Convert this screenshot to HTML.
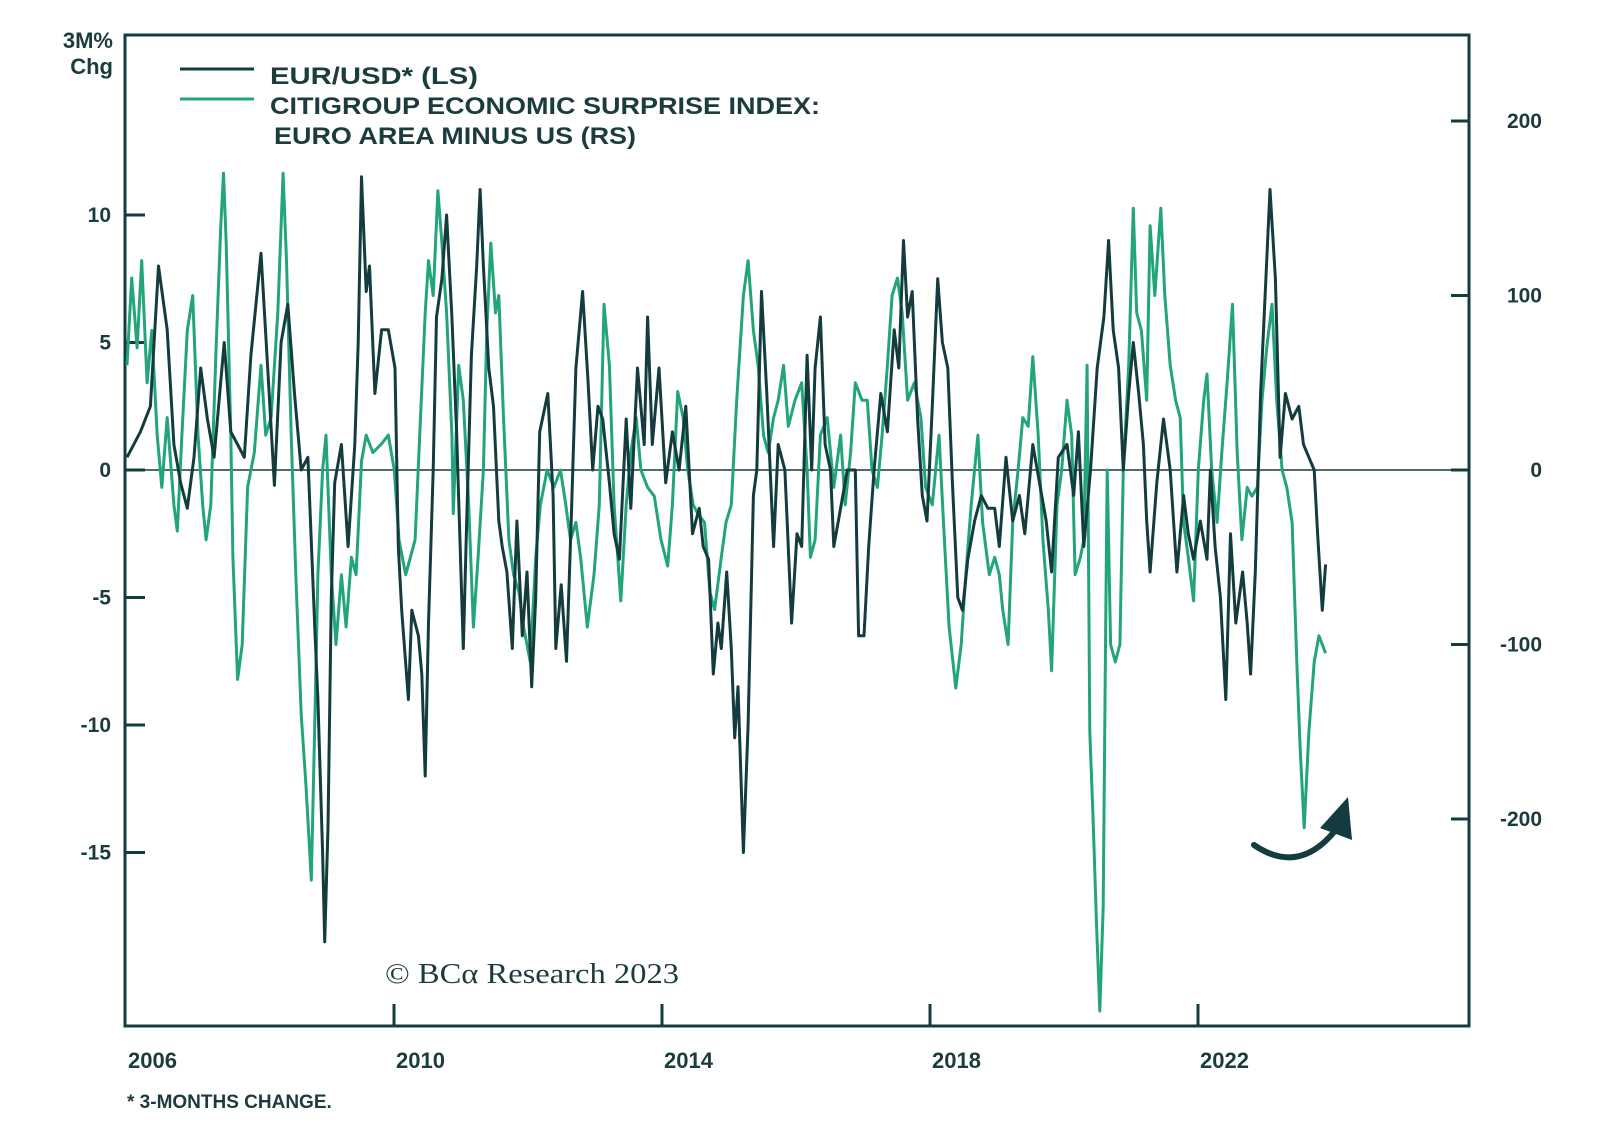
<!DOCTYPE html>
<html><head><meta charset="utf-8">
<style>
html,body{margin:0;padding:0;background:#fff;}
svg{display:block;}
text{font-family:"Liberation Sans",sans-serif;fill:#1c3b3d;}
</style></head>
<body>
<svg id="chart" width="1600" height="1142" viewBox="0 0 1600 1142" xmlns="http://www.w3.org/2000/svg">
  <g id="grid"></g>
  <g id="series"></g>
  <g>
    <line x1="180" y1="69" x2="254" y2="69" stroke="#143c3f" stroke-width="3"/>
    <text x="270" y="84" font-size="24" font-weight="bold" textLength="208" lengthAdjust="spacingAndGlyphs">EUR/USD* (LS)</text>
    <line x1="180" y1="99" x2="254" y2="99" stroke="#22a57a" stroke-width="3"/>
    <text x="270" y="114" font-size="24" font-weight="bold" textLength="550" lengthAdjust="spacingAndGlyphs">CITIGROUP ECONOMIC SURPRISE INDEX:</text>
    <text x="274" y="144" font-size="24" font-weight="bold" textLength="362" lengthAdjust="spacingAndGlyphs">EURO AREA MINUS US (RS)</text>
  </g>
  <text x="113" y="48" font-size="22" font-weight="bold" text-anchor="end">3M%</text>
  <text x="113" y="74" font-size="22" font-weight="bold" text-anchor="end">Chg</text>
  <text x="385" y="983" font-size="28" style="font-family:'Liberation Serif',serif" textLength="294" lengthAdjust="spacingAndGlyphs">© BCα Research 2023</text>
  <text x="127" y="1108" font-size="19" font-weight="bold">* 3-MONTHS CHANGE.</text>
  <g>
    <path d="M1254 845 Q1298 875 1334 832" fill="none" stroke="#143c3f" stroke-width="6" stroke-linecap="round"/>
    <polygon points="1348,797 1352,840 1320,828" fill="#143c3f"/>
  </g>
</svg>
<script>
// ---- data ----
const eurDates = [2006.0,2006.2,2006.35,2006.47,2006.6,2006.7,2006.8,2006.9,2007.0,2007.1,2007.2,2007.3,2007.45,2007.55,2007.65,2007.75,2007.85,2008.0,2008.1,2008.2,2008.3,2008.4,2008.5,2008.6,2008.7,2008.8,2008.85,2008.92,2008.95,2009.0,2009.05,2009.1,2009.2,2009.3,2009.4,2009.45,2009.5,2009.57,2009.62,2009.7,2009.8,2009.9,2010.0,2010.05,2010.1,2010.2,2010.25,2010.35,2010.4,2010.45,2010.5,2010.57,2010.62,2010.7,2010.77,2010.85,2010.92,2011.02,2011.07,2011.14,2011.22,2011.27,2011.32,2011.4,2011.47,2011.55,2011.6,2011.67,2011.75,2011.82,2011.9,2011.97,2012.04,2012.1,2012.16,2012.28,2012.36,2012.4,2012.48,2012.56,2012.63,2012.7,2012.8,2012.88,2012.95,2013.03,2013.1,2013.2,2013.27,2013.35,2013.45,2013.52,2013.62,2013.72,2013.77,2013.84,2013.94,2014.04,2014.14,2014.24,2014.34,2014.44,2014.54,2014.6,2014.68,2014.75,2014.82,2014.87,2014.95,2015.02,2015.07,2015.12,2015.2,2015.27,2015.35,2015.4,2015.47,2015.55,2015.65,2015.72,2015.82,2015.92,2016.0,2016.07,2016.15,2016.22,2016.27,2016.35,2016.42,2016.5,2016.55,2016.65,2016.75,2016.87,2016.92,2017.0,2017.07,2017.15,2017.25,2017.35,2017.45,2017.52,2017.59,2017.65,2017.72,2017.8,2017.87,2017.94,2018.02,2018.1,2018.17,2018.25,2018.32,2018.4,2018.47,2018.55,2018.65,2018.75,2018.85,2018.95,2019.02,2019.12,2019.22,2019.32,2019.4,2019.52,2019.62,2019.72,2019.8,2019.9,2020.03,2020.13,2020.2,2020.28,2020.38,2020.48,2020.58,2020.65,2020.72,2020.8,2020.87,2020.95,2021.02,2021.1,2021.17,2021.22,2021.27,2021.37,2021.47,2021.57,2021.67,2021.77,2021.84,2021.92,2022.02,2022.12,2022.17,2022.24,2022.32,2022.4,2022.47,2022.55,2022.65,2022.72,2022.77,2022.84,2022.92,2022.99,2023.06,2023.14,2023.21,2023.29,2023.39,2023.49,2023.56,2023.64,2023.72,2023.77,2023.84,2023.89];
const eurValues = [0.5,1.5,2.5,8,5.5,1,-0.5,-1.5,0.5,4,2,0.5,5,1.5,1,0.5,4.5,8.5,4,-0.6,5,6.5,3,0,0.5,-6,-9,-15,-18.5,-14,-5,-0.5,1,-3,1,5,11.5,7,8,3,5.5,5.5,4,-3,-5.5,-9,-5.5,-6.5,-8,-12,-6,0,6,7.5,10,6,1.5,-7,-2,4.5,8,11,8,4,2.5,-2,-3,-4,-7,-2,-6.5,-4,-8.5,-5,1.5,3,-1,-7,-4.5,-7.5,-2,4,7,3.5,0,2.5,2,-0.5,-2.5,-3.5,2,-1.5,4,1,6,1,4,-0.5,1.5,0,2.5,-2.5,-1.5,-3,-3.5,-8,-6,-7,-4,-7,-10.5,-8.5,-15,-10,-1,0,7,3,-3,1,0,-6,-2.5,-3,4.5,0,4,6,1,0,-3,-1.5,0,0,-6.5,-6.5,-3,0,3,1.5,5.5,4,9,6,7,2,-1,-2,2.5,7.5,5,4,-0.5,-5,-5.5,-3.5,-2,-1,-1.5,-1.5,-3,0.5,-2,-1,-2.5,1,-0.5,-2,-4,0.5,1,-1,1.5,-3,0,4,6,9,5.5,4,0,3,5,3,1,-2,-4,-0.5,2,0,-4,-1,-2.5,-3.5,-2,-3.5,0,-3,-5,-9,-2.5,-6,-4,-6,-8,-4,3,7,11,7.5,0.5,3,2,2.5,1,0.5,0,-2.5,-5.5,-3.7];
const cesiDates = [2006.0,2006.07,2006.15,2006.22,2006.3,2006.37,2006.45,2006.52,2006.6,2006.7,2006.75,2006.82,2006.9,2006.98,2007.06,2007.13,2007.18,2007.25,2007.33,2007.4,2007.44,2007.48,2007.55,2007.58,2007.65,2007.72,2007.8,2007.9,2008.0,2008.07,2008.15,2008.25,2008.33,2008.38,2008.45,2008.52,2008.6,2008.67,2008.75,2008.8,2008.85,2008.92,2008.97,2009.05,2009.12,2009.2,2009.27,2009.35,2009.42,2009.5,2009.57,2009.67,2009.8,2009.9,2009.99,2010.06,2010.16,2010.23,2010.3,2010.38,2010.45,2010.5,2010.57,2010.64,2010.7,2010.77,2010.85,2010.87,2010.95,2011.02,2011.1,2011.17,2011.24,2011.32,2011.37,2011.43,2011.5,2011.55,2011.62,2011.7,2011.77,2011.85,2011.92,2012.02,2012.1,2012.17,2012.27,2012.37,2012.47,2012.55,2012.62,2012.7,2012.77,2012.87,2012.97,2013.05,2013.12,2013.2,2013.27,2013.37,2013.45,2013.52,2013.6,2013.67,2013.77,2013.87,2013.97,2014.07,2014.14,2014.22,2014.3,2014.37,2014.45,2014.52,2014.62,2014.7,2014.77,2014.87,2014.94,2015.02,2015.1,2015.2,2015.27,2015.35,2015.42,2015.5,2015.57,2015.65,2015.72,2015.8,2015.87,2015.97,2016.07,2016.15,2016.2,2016.27,2016.35,2016.45,2016.55,2016.65,2016.72,2016.8,2016.87,2016.97,2017.05,2017.12,2017.2,2017.27,2017.35,2017.42,2017.5,2017.57,2017.65,2017.75,2017.85,2017.92,2018.02,2018.12,2018.2,2018.27,2018.37,2018.45,2018.52,2018.6,2018.7,2018.77,2018.87,2018.95,2019.02,2019.07,2019.15,2019.22,2019.3,2019.37,2019.45,2019.52,2019.6,2019.67,2019.75,2019.8,2019.88,2019.95,2020.03,2020.1,2020.15,2020.23,2020.28,2020.33,2020.37,2020.42,2020.47,2020.52,2020.57,2020.6,2020.63,2020.68,2020.75,2020.82,2020.87,2020.95,2021.02,2021.07,2021.14,2021.22,2021.27,2021.34,2021.43,2021.49,2021.57,2021.65,2021.72,2021.77,2021.84,2021.92,2021.99,2022.07,2022.12,2022.19,2022.27,2022.34,2022.42,2022.5,2022.57,2022.64,2022.72,2022.79,2022.87,2022.94,2023.01,2023.09,2023.16,2023.24,2023.31,2023.39,2023.46,2023.51,2023.57,2023.64,2023.72,2023.79,2023.84,2023.89];
const cesiValues = [60,110,70,120,50,80,20,-10,30,-20,-35,20,80,100,20,-20,-40,-20,70,140,170,130,20,-50,-120,-100,-10,10,60,20,30,90,170,120,20,-60,-140,-180,-235,-150,-60,0,20,-60,-100,-60,-90,-50,-60,5,20,10,15,20,0,-40,-60,-50,-40,30,90,120,100,160,130,90,20,-25,60,40,-20,-90,-50,0,80,130,90,100,30,-40,-60,-70,-90,-110,-50,-20,0,-10,0,-20,-40,-30,-50,-90,-60,-20,95,60,-20,-75,-20,10,30,0,-10,-15,-40,-55,-20,45,30,0,-20,-25,-30,-70,-80,-50,-30,-20,40,100,120,80,60,20,10,30,40,60,25,40,50,0,-50,-40,20,30,-10,20,-20,10,50,40,40,0,-10,20,60,100,110,90,40,50,30,-10,-20,20,-40,-90,-125,-100,-60,-20,20,-30,-60,-50,-60,-80,-100,-30,0,30,25,65,20,-40,-80,-115,-20,0,40,20,-60,-50,-40,60,-150,-200,-260,-310,-250,-120,0,-100,-110,-100,0,60,150,90,80,40,140,100,150,100,60,40,30,-30,-50,-75,0,40,55,0,-30,10,50,95,10,-40,-10,-15,-10,40,70,95,40,0,-10,-30,-110,-160,-205,-150,-110,-95,-100,-105];
const yearTicks = [2006,2010,2014,2018,2022];
const leftTicks = [-15,-10,-5,0,5,10];
const rightTicks = [-200,-100,0,100,200];

// ---- scales ----
const X0=125, X1=1469, Y0=35, Y1=1026;
const xs = t => 127 + (t-2006)*67;
const yl = v => 470 - v*25.5;
const yr = v => 470 - v*1.745;
const NS='http://www.w3.org/2000/svg';
const grid=document.getElementById('grid'), ser=document.getElementById('series');
function mk(tag, attrs, parent){const e=document.createElementNS(NS,tag);for(const k in attrs)e.setAttribute(k,attrs[k]);parent.appendChild(e);return e;}
const DARK='#143c3f';

const z=mk('line',{x1:X0,x2:X1,y1:yl(0),y2:yl(0),stroke:DARK,'stroke-width':1.5},grid);



leftTicks.forEach(v=>{
  const t=mk('line',{x1:X0,x2:X0+20,y1:yl(v),y2:yl(v),stroke:DARK,'stroke-width':3},grid);
  
  
  const l=mk('text',{x:111,y:yl(v)+7,'font-size':21,'font-weight':'bold','text-anchor':'end'},grid);
  l.textContent=v;
  
  
});
rightTicks.forEach(v=>{
  const t=mk('line',{x1:X1-18,x2:X1,y1:yr(v),y2:yr(v),stroke:DARK,'stroke-width':3},grid);
  
  
  const l=mk('text',{x:1542,y:yr(v)+7,'font-size':21,'font-weight':'bold','text-anchor':'end'},grid);
  l.textContent=v;
  
  
});
yearTicks.forEach((yv,i)=>{
  if(i>0){
    const t=mk('line',{x1:xs(yv)-1,x2:xs(yv)-1,y1:Y1-22,y2:Y1,stroke:DARK,'stroke-width':3},grid);
    
    
  }
  const l=mk('text',{x:xs(yv)+1,y:1068,'font-size':22,'font-weight':'bold'},grid);
  l.textContent=yv;
  
  
});

const pc=cesiDates.map((d,i)=>xs(d).toFixed(1)+','+yr(cesiValues[i]).toFixed(1)).join(' ');
const lc=mk('polyline',{points:pc,fill:'none',stroke:'#22a57a','stroke-width':3,'stroke-linejoin':'round'},ser);


const pe=eurDates.map((d,i)=>xs(d).toFixed(1)+','+yl(eurValues[i]).toFixed(1)).join(' ');
const le=mk('polyline',{points:pe,fill:'none',stroke:DARK,'stroke-width':3,'stroke-linejoin':'round'},ser);



const f=mk('rect',{x:X0,y:Y0,width:X1-X0,height:Y1-Y0,fill:'none',stroke:DARK,'stroke-width':3},grid);


</script>
</body></html>
